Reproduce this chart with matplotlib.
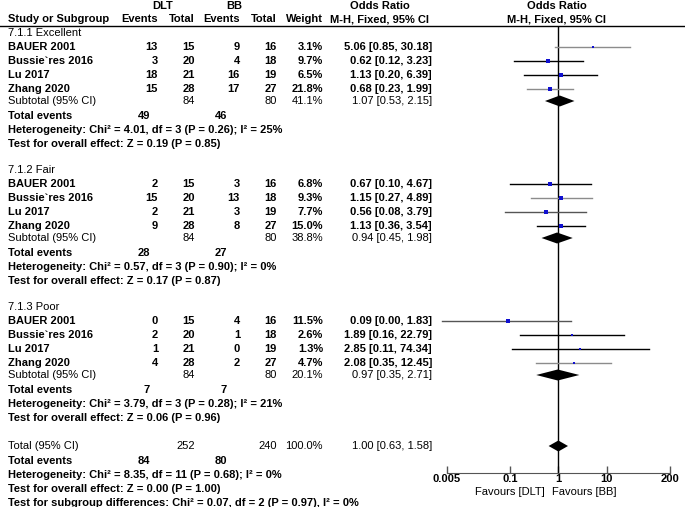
import numpy as np
import matplotlib
matplotlib.use("Agg")
import matplotlib.pyplot as plt

plt.rcParams['font.family'] = ['Liberation Sans', 'DejaVu Sans']
plt.rcParams['font.size'] = 8

# ---- data ----
groups = ['7.1.1 Excellent', '7.1.2 Fair', '7.1.3 Poor']
studies = ['BAUER 2001', 'Bussie`res 2016', 'Lu 2017', 'Zhang 2020']

dlt_events = [[13, 3, 18, 15], [2, 15, 2, 9], [0, 2, 1, 4]]
dlt_total = [[15, 20, 21, 28], [15, 20, 21, 28], [15, 20, 21, 28]]
bb_events = [[9, 4, 16, 17], [3, 13, 3, 8], [4, 1, 0, 2]]
bb_total = [[16, 18, 19, 27], [16, 18, 19, 27], [16, 18, 19, 27]]
weights = [[3.1, 9.7, 6.5, 21.8], [6.8, 9.3, 7.7, 15.0], [11.5, 2.6, 1.3, 4.7]]
or_est = [[5.06, 0.62, 1.13, 0.68], [0.67, 1.15, 0.56, 1.13], [0.09, 1.89, 2.85, 2.08]]
or_lo = [[0.85, 0.12, 0.20, 0.23], [0.10, 0.27, 0.08, 0.36], [0.004, 0.16, 0.11, 0.35]]
or_hi = [[30.18, 3.23, 6.39, 1.99], [4.67, 4.89, 3.79, 3.54], [1.83, 22.79, 74.34, 12.45]]

sub_dlt_total = [84, 84, 84]
sub_bb_total = [80, 80, 80]
sub_weight = [41.1, 38.8, 20.1]
sub_or = [1.07, 0.94, 0.97]
sub_lo = [0.53, 0.45, 0.35]
sub_hi = [2.15, 1.98, 2.71]
sub_dlt_events = [49, 28, 7]
sub_bb_events = [46, 27, 7]
het_chi2 = [4.01, 0.57, 3.79]
het_df = [3, 3, 3]
het_p = [0.26, 0.90, 0.28]
het_i2 = [25, 0, 21]
z_val = [0.19, 0.17, 0.06]
z_p = [0.85, 0.87, 0.96]

tot_dlt_total, tot_bb_total, tot_weight = 252, 240, 100.0
tot_or, tot_lo, tot_hi = 1.00, 0.63, 1.58
tot_dlt_events, tot_bb_events = 84, 80
tot_chi2, tot_df, tot_p, tot_i2 = 8.35, 11, 0.68, 0
tot_z, tot_zp = 0.00, 1.00
sg_chi2, sg_df, sg_p, sg_i2 = 0.07, 2, 0.97, 0

axis_ticks = [0.005, 0.1, 1, 10, 200]
axis_labels = ['0.005', '0.1', '1', '10', '200']

# CI line shade per study (as drawn in the original)
line_cols = [['#8c8c8c', 'black', 'black', '#8c8c8c'],
             ['black', '#8c8c8c', '#555555', 'black'],
             ['#555555', 'black', 'black', '#8c8c8c']]

# ---- layout (pixels) ----
W, H = 685, 507
x_evt1, x_tot1, x_evt2, x_tot2, x_wt, x_or = 158, 195, 240, 277, 323, 432
x_te1, x_te2 = 150, 227
plot_x0, plot_x1 = 446.7, 670
line_y, axis_y = 26, 473
blue = '#1010d0'

fig = plt.figure(figsize=(W / 100, H / 100), dpi=100)
tax = fig.add_axes([0, 0, 1, 1])
tax.set_xlim(0, W)
tax.set_ylim(H, 0)
tax.axis('off')

fax = fig.add_axes([plot_x0 / W, 1 - axis_y / H, (plot_x1 - plot_x0) / W, (axis_y - line_y) / H])
fax.set_facecolor('none')
fax.set_xscale('log')
fax.set_xlim(0.005, 200)
fax.set_ylim(axis_y, line_y)
for s in ['left', 'right', 'top']:
    fax.spines[s].set_visible(False)
fax.spines['bottom'].set_color('#555555')
fax.set_yticks([])
fax.set_xticks(axis_ticks)
fax.set_xticklabels(axis_labels, fontweight='bold')
fax.minorticks_off()
fax.tick_params(axis='x', direction='in', length=5, width=1, color='#555555', pad=1)
fax.axvline(1, color='black', lw=1)


def txt(x, y, s, ha='left', bold=False):
    tax.text(x, y, s, ha=ha, va='center', fontweight='bold' if bold else 'normal')


def diamond(y, est, lo, hi, h=5.5):
    fax.fill([lo, est, hi, est], [y, y - h, y, y + h], color='black', lw=0)


# header
txt(163, 6, 'DLT', 'center', True)
txt(234, 6, 'BB', 'center', True)
txt(380, 6, 'Odds Ratio', 'center', True)
txt(557, 6, 'Odds Ratio', 'center', True)
txt(8, 19, 'Study or Subgroup', bold=True)
txt(x_evt1, 19, 'Events', 'right', True)
txt(x_tot1, 19, 'Total', 'right', True)
txt(x_evt2, 19, 'Events', 'right', True)
txt(x_tot2, 19, 'Total', 'right', True)
txt(x_wt, 19, 'Weight', 'right', True)
txt(380, 19, 'M-H, Fixed, 95% CI', 'center', True)
txt(557, 19, 'M-H, Fixed, 95% CI', 'center', True)
tax.plot([0, W], [line_y, line_y], color='black', lw=1)

y = 33
for g in range(len(groups)):
    txt(8, y, groups[g])
    y += 14
    for i in range(len(studies)):
        txt(8, y, studies[i], bold=True)
        txt(x_evt1, y, str(dlt_events[g][i]), 'right', True)
        txt(x_tot1, y, str(dlt_total[g][i]), 'right', True)
        txt(x_evt2, y, str(bb_events[g][i]), 'right', True)
        txt(x_tot2, y, str(bb_total[g][i]), 'right', True)
        txt(x_wt, y, f'{weights[g][i]:.1f}%', 'right', True)
        txt(x_or, y, f'{or_est[g][i]:.2f} [{or_lo[g][i]:.2f}, {or_hi[g][i]:.2f}]', 'right', True)
        fax.plot([or_lo[g][i], or_hi[g][i]], [y, y], color=line_cols[g][i], lw=1, clip_on=False)
        ms = (1.2 + 0.75 * np.sqrt(weights[g][i])) * 0.72
        fax.plot(or_est[g][i], y, 's', color=blue, ms=ms, mew=0)
        y += 14
    y -= 2
    txt(8, y, 'Subtotal (95% CI)')
    txt(x_tot1, y, str(sub_dlt_total[g]), 'right')
    txt(x_tot2, y, str(sub_bb_total[g]), 'right')
    txt(x_wt, y, f'{sub_weight[g]:.1f}%', 'right')
    txt(x_or, y, f'{sub_or[g]:.2f} [{sub_lo[g]:.2f}, {sub_hi[g]:.2f}]', 'right')
    diamond(y, sub_or[g], sub_lo[g], sub_hi[g])
    y += 15
    txt(8, y, 'Total events', bold=True)
    txt(x_te1, y, str(sub_dlt_events[g]), 'right', True)
    txt(x_te2, y, str(sub_bb_events[g]), 'right', True)
    y += 14
    txt(8, y, f'Heterogeneity: Chi\u00b2 = {het_chi2[g]:.2f}, df = {het_df[g]} '
              f'(P = {het_p[g]:.2f}); I\u00b2 = {het_i2[g]}%', bold=True)
    y += 14
    txt(8, y, f'Test for overall effect: Z = {z_val[g]:.2f} (P = {z_p[g]:.2f})', bold=True)
    y += 26

y += 2
txt(8, y, 'Total (95% CI)')
txt(x_tot1, y, str(tot_dlt_total), 'right')
txt(x_tot2, y, str(tot_bb_total), 'right')
txt(x_wt, y, f'{tot_weight:.1f}%', 'right')
txt(x_or, y, f'{tot_or:.2f} [{tot_lo:.2f}, {tot_hi:.2f}]', 'right')
diamond(y, tot_or, tot_lo, tot_hi)
y += 15
txt(8, y, 'Total events', bold=True)
txt(x_te1, y, str(tot_dlt_events), 'right', True)
txt(x_te2, y, str(tot_bb_events), 'right', True)
y += 14
txt(8, y, f'Heterogeneity: Chi\u00b2 = {tot_chi2:.2f}, df = {tot_df} (P = {tot_p:.2f}); I\u00b2 = {tot_i2}%', bold=True)
y += 14
txt(8, y, f'Test for overall effect: Z = {tot_z:.2f} (P = {tot_zp:.2f})', bold=True)
y += 14
txt(8, y, f'Test for subgroup differences: Chi\u00b2 = {sg_chi2:.2f}, df = {sg_df} '
          f'(P = {sg_p:.2f}), I\u00b2 = {sg_i2}%', bold=True)

txt(545, 492, 'Favours [DLT]', 'right')
txt(552, 492, 'Favours [BB]', 'left')

fig.savefig('out.png', dpi=100)
